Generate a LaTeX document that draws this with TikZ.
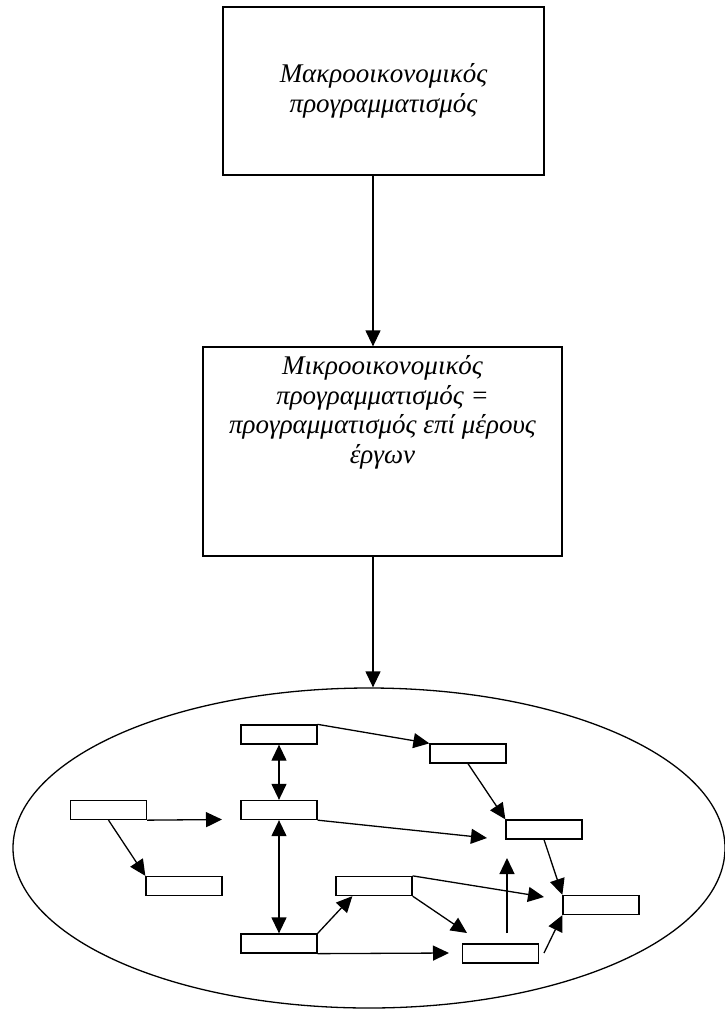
\documentclass[tikz,border=0pt]{standalone}
\usepackage{fontspec}
\setmainfont{Liberation Serif}
\usetikzlibrary{arrows.meta,positioning,shapes.geometric}
\tikzset{
	box/.style={draw,line width=1.3pt,inner sep=0pt},
	task/.style={box,minimum width=76pt,minimum height=19pt},
	txt/.style={align=center,font=\fontsize{27}{29.5}\selectfont\itshape},
	arr/.style={line width=1.3pt,-{Triangle[length=16pt,width=15pt]}},
	darr/.style={line width=1.3pt,{Triangle[length=16pt,width=15pt]}-{Triangle[length=16pt,width=15pt]}}
}
\begin{document}
\begin{tikzpicture}[x=1pt,y=-1pt]
	\useasboundingbox (0,0) rectangle (725,1009);
	\node[box,txt,minimum width=321pt,minimum height=168pt] (macro) at (383.5,91) {Μακροοικονομικός\\προγραμματισμός};
	\node[box,minimum width=359pt,minimum height=209pt] (micro) at (382.5,451.5) {};
	\node[txt,below=6pt of micro.north] (microtxt) {Μικροοικονομικός\\προγραμματισμός =\\προγραμματισμός επί μέρους\\έργων};
	\node[box,ellipse,minimum width=712pt,minimum height=320pt] (cloud) at (369,848) {};
	\coordinate (mid) at (373,0);
	\draw[arr] (macro.south -| mid) -- (micro.north -| mid);
	\draw[arr] (micro.south -| mid) -- (cloud.north -| mid);
	\foreach \n/\x/\y in {a/279/734.5, b/468/753.5, c/279/810, d/108.5/810, e/544/829.5,
		f/184/886, g/374/886, h/601/905, i/279/943.5, j/500.5/953.5}
		\node[task] (\n) at (\x,\y) {};
	\coordinate (d1) at (222,819.5);
	\coordinate (c1) at (487,838);
	\coordinate (g1) at (544,897);
	\coordinate (g2) at (467,933);
	\coordinate (i1) at (449,953);
	\coordinate (j1) at (507,933);
	\coordinate (j2) at (507,858);
	\coordinate (j3) at (544,953);
	\draw[arr] (a.north east) -- (b.north west);
	\draw[darr] (a.south) -- (c.north);
	\draw[darr] (c.south) -- (i.north);
	\draw[arr] (d.south east) -- (d1);
	\draw[arr] (d.south) -- (f.north west);
	\draw[arr] (c.south east) -- (c1);
	\draw[arr] (b.south) -- (e.north west);
	\draw[arr] (e.south) -- (h.north west);
	\draw[arr] (g.north east) -- (g1);
	\draw[arr] (g.south east) -- (g2);
	\draw[arr] (i.north east) -- ([xshift=17pt]g.south west);
	\draw[arr] (i.south east) -- (i1);
	\draw[arr] (j1) -- (j2);
	\draw[arr] (j3) -- (h.south west);
\end{tikzpicture}
\end{document}
